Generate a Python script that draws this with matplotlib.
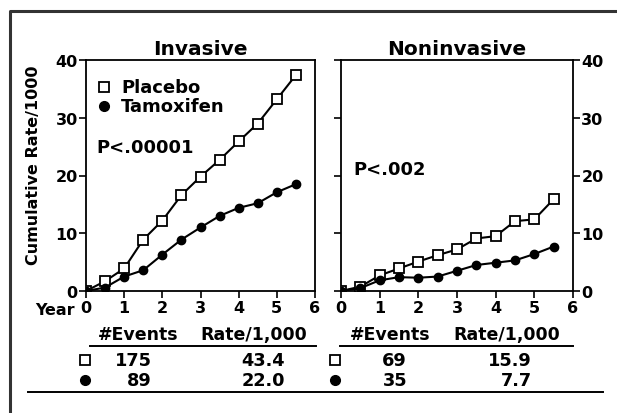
import matplotlib
matplotlib.use('Agg')
import matplotlib.pyplot as plt
from matplotlib.lines import Line2D

plt.rcParams['font.family'] = ['DejaVu Sans']
plt.rcParams['font.weight'] = 'bold'

# Data
years = [0, 0.5, 1, 1.5, 2, 2.5, 3, 3.5, 4, 4.5, 5, 5.5]
inv_placebo = [0, 1.7, 3.9, 8.9, 12.2, 16.6, 19.8, 22.7, 25.9, 29.0, 33.2, 37.4]
inv_tamoxifen = [0, 0.6, 2.5, 3.6, 6.3, 8.9, 11.0, 13.0, 14.4, 15.2, 17.1, 18.5]
non_placebo = [0, 0.75, 2.7, 3.9, 5.1, 6.2, 7.2, 9.1, 9.5, 12.1, 12.4, 15.9]
non_tamoxifen = [0, 0.5, 1.85, 2.4, 2.3, 2.5, 3.5, 4.5, 4.9, 5.3, 6.4, 7.7]

xticks = [0, 1, 2, 3, 4, 5, 6]
yticks = [0, 10, 20, 30, 40]

inv_events = ['175', '89']
inv_rates = ['43.4', '22.0']
non_events = ['69', '35']
non_rates = ['15.9', '7.7']

W, H = 617, 414
fig = plt.figure(figsize=(W / 100, H / 100), dpi=100)


def px_axes(x0, y0, x1, y1):
    return fig.add_axes([x0 / W, 1 - y1 / H, (x1 - x0) / W, (y1 - y0) / H])


def draw(ax, plac, tam):
    ax.plot(years, plac, color='black', lw=1.5, marker='s', ms=6.5,
            mfc='white', mec='black', mew=1.3, zorder=3)
    ax.plot(years, tam, color='black', lw=1.5, marker='o', ms=6,
            mfc='black', mec='black', zorder=3)
    ax.set_xlim(0, 6)
    ax.set_ylim(0, 40)
    ax.set_xticks(xticks)
    ax.set_yticks(yticks)
    for s in ax.spines.values():
        s.set_linewidth(1.3)
    ax.tick_params(direction='out', length=5, width=1.2, labelsize=11.5)
    ax.tick_params(axis='x', pad=1.5)


ax1 = px_axes(86, 61, 315, 292)
draw(ax1, inv_placebo, inv_tamoxifen)
ax1.tick_params(axis='y', left=True, right=False, pad=1)
ax1.set_title('Invasive', fontsize=14.5, fontweight='bold', pad=4)
ax1.set_ylabel('Cumulative Rate/1000', fontsize=11.5, fontweight='bold')
ax1.yaxis.set_label_coords(-0.197, 0.548)
ax1.text(-0.28, -3.25, 'Year', fontsize=11.5, ha='right', va='center',
         fontweight='bold')

ax1.plot([0.47], [35.4], marker='s', ms=7, mfc='white', mec='black', mew=1.3)
ax1.plot([0.47], [32.0], marker='o', ms=7, mfc='black', mec='black')
ax1.text(0.92, 35.4, 'Placebo', fontsize=13, va='center')
ax1.text(0.92, 32.0, 'Tamoxifen', fontsize=13, va='center')
ax1.text(0.28, 24.9, 'P<.00001', fontsize=13, va='center')

ax2 = px_axes(341, 61, 573, 292)
draw(ax2, non_placebo, non_tamoxifen)
ax2.tick_params(axis='y', left=True, right=True, labelleft=False,
                labelright=True, pad=1)
ax2.set_title('Noninvasive', fontsize=14.5, fontweight='bold', pad=4)
ax2.text(0.33, 21.1, 'P<.002', fontsize=13, va='center')


# tables below the plots
def table(x_sq, x_ev, x_rt, x_h1, x_h2, x_l0, x_l1, events, rates):
    fig.text(x_h1 / W, 1 - 335 / H, '#Events', fontsize=12.5, ha='left', va='center')
    fig.text(x_h2 / W, 1 - 335 / H, 'Rate/1,000', fontsize=12.5, ha='left', va='center')
    fig.add_artist(Line2D([x_l0 / W, x_l1 / W], [1 - 347 / H] * 2,
                          color='black', lw=1.4))
    rows = [361, 381]
    fig.add_artist(Line2D([x_sq / W], [1 - rows[0] / H], marker='s', ms=7,
                          mfc='white', mec='black', mew=1.3))
    fig.add_artist(Line2D([x_sq / W], [1 - rows[1] / H], marker='o', ms=7,
                          mfc='black', mec='black'))
    for y, ev, rt in zip(rows, events, rates):
        fig.text(x_ev / W, 1 - y / H, ev, fontsize=12.8, ha='right', va='center')
        fig.text(x_rt / W, 1 - y / H, rt, fontsize=12.8, ha='right', va='center')


table(85, 152, 285, 98, 200, 90, 316, inv_events, inv_rates)
table(335, 407, 532, 350, 453, 340, 573, non_events, non_rates)

fig.add_artist(Line2D([28 / W, 603 / W], [1 - 393 / H] * 2, color='black', lw=1.4))

# outer frame
fig.add_artist(Line2D([9.5 / W, 9.5 / W, 1.0], [0, 1 - 12 / H, 1 - 12 / H],
                      color='#333333', lw=2.2))

fig.savefig('out.png', dpi=100)
